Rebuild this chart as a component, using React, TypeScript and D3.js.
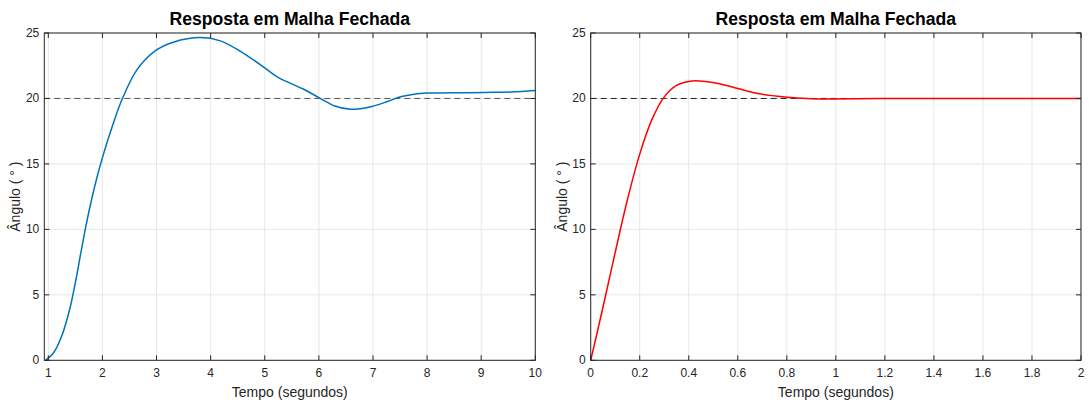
import React from "react";
import * as d3 from "d3";

const leftT = [0.95, 1.1, 1.25, 1.4, 1.5, 1.6, 1.7, 1.8, 1.9, 2.0, 2.2, 2.36, 2.64, 2.98, 3.31, 3.81, 4.18, 4.55, 4.98, 5.23, 5.48, 5.72, 6.0, 6.28, 6.59, 6.96, 7.27, 7.51, 7.76, 8.01, 8.44, 9.06, 9.55, 10];
const leftV = [0, 0.6, 1.88, 3.98, 5.93, 8.18, 10.36, 12.28, 13.98, 15.48, 18.08, 19.9, 22.2, 23.65, 24.3, 24.65, 24.4, 23.6, 22.4, 21.65, 21.15, 20.7, 20.07, 19.44, 19.17, 19.37, 19.77, 20.13, 20.33, 20.41, 20.43, 20.46, 20.49, 20.6];

const rightT = [0, 0.05, 0.1, 0.15, 0.2, 0.25, 0.3, 0.35, 0.4, 0.44, 0.52, 0.6, 0.683, 0.79, 0.9, 0.99, 1.2, 1.5, 2];
const rightV = [0, 4.05, 8.25, 12.28, 15.75, 18.4, 20.12, 21.0, 21.3, 21.34, 21.15, 20.76, 20.38, 20.12, 19.98, 19.96, 19.99, 20.0, 20.0];

const leftXTicks = [1, 2, 3, 4, 5, 6, 7, 8, 9, 10];
const rightXTicks = [0, 0.2, 0.4, 0.6, 0.8, 1, 1.2, 1.4, 1.6, 1.8, 2];
const yTicks = [0, 5, 10, 15, 20, 25];
const reference = 20;
const titleText = "Resposta em Malha Fechada";
const xLabel = "Tempo (segundos)";
const yLabel = "Ângulo ( ° )";

const FONT = "'Liberation Sans', Arial, Helvetica, sans-serif";
const AX = "#262626";

type PanelProps = {
  x0: number; x1: number; domain: [number, number];
  t: number[]; v: number[]; xTicks: number[];
  color: string; dashColor: string; fmt: (d: number) => string;
};

function Panel({ x0, x1, domain, t, v, xTicks, color, dashColor, fmt }: PanelProps) {
  const top = 33, bottom = 360.3;
  const x = d3.scaleLinear().domain(domain).range([x0, x1]);
  const y = d3.scaleLinear().domain([0, 25]).range([bottom, top]);
  const pts: [number, number][] = t.map((d, i) => [d, v[i]]);
  const line = d3.line<[number, number]>().x(d => x(d[0])).y(d => y(d[1])).curve(d3.curveCatmullRom.alpha(0.5));
  const tl = 5;
  const cx = (x0 + x1) / 2;
  return (
    <g>
      {xTicks.map(d => (
        <line key={"gx" + d} x1={x(d)} x2={x(d)} y1={top} y2={bottom} stroke="#e6e6e6" strokeWidth={1} />
      ))}
      {yTicks.map(d => (
        <line key={"gy" + d} x1={x0} x2={x1} y1={y(d)} y2={y(d)} stroke="#e6e6e6" strokeWidth={1} />
      ))}
      <line x1={x0} x2={x1} y1={y(reference)} y2={y(reference)} stroke={dashColor} strokeWidth={1} strokeDasharray="6,4" />
      <path d={line(pts) || ""} fill="none" stroke={color} strokeWidth={1.5} />
      <rect x={x0} y={top} width={x1 - x0} height={bottom - top} fill="none" stroke={AX} strokeWidth={1} />
      {xTicks.map(d => (
        <g key={"tx" + d}>
          <line x1={x(d)} x2={x(d)} y1={bottom} y2={bottom - tl} stroke={AX} />
          <line x1={x(d)} x2={x(d)} y1={top} y2={top + tl} stroke={AX} />
          <text x={x(d)} y={377} textAnchor="middle" fontSize={12} fill={AX} fontFamily={FONT}>{fmt(d)}</text>
        </g>
      ))}
      {yTicks.map(d => (
        <g key={"ty" + d}>
          <line x1={x0} x2={x0 + tl} y1={y(d)} y2={y(d)} stroke={AX} />
          <line x1={x1} x2={x1 - tl} y1={y(d)} y2={y(d)} stroke={AX} />
          <text x={x0 - 5} y={y(d) + 4} textAnchor="end" fontSize={12} fill={AX} fontFamily={FONT}>{d}</text>
        </g>
      ))}
      <text x={cx} y={25} textAnchor="middle" fontSize={17.6} fontWeight="bold" fill="#000" fontFamily={FONT}>{titleText}</text>
      <text x={cx} y={397} textAnchor="middle" fontSize={14} fill={AX} fontFamily={FONT}>{xLabel}</text>
      <text transform={`translate(${x0 - 24},${(top + bottom) / 2}) rotate(-90)`} textAnchor="middle" fontSize={14} fill={AX} fontFamily={FONT}>{yLabel}</text>
    </g>
  );
}

export default function App() {
  return (
    <svg width={1089} height={403} style={{ position: "absolute", left: 0, top: 0, background: "#fff" }}>
      <rect width={1089} height={403} fill="#fff" />
      <Panel x0={44.3} x1={535.3} domain={[1 - 4 / 54, 10]} t={leftT} v={leftV} xTicks={leftXTicks}
        color="#0072BD" dashColor="#555" fmt={d => String(d)} />
      <Panel x0={590.7} x1={1081} domain={[0, 2]} t={rightT} v={rightV} xTicks={rightXTicks}
        color="#ff0000" dashColor="#222" fmt={d => String(d)} />
    </svg>
  );
}
